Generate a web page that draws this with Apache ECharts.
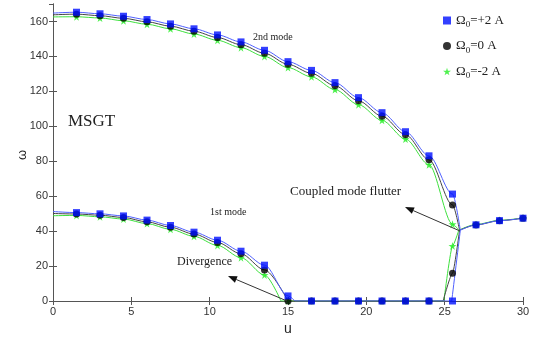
<!DOCTYPE html>
<html>
<head>
<meta charset="utf-8">
<title>MSGT flutter</title>
<script src="https://cdn.jsdelivr.net/npm/echarts@6/dist/echarts.min.js"></script>
</head>
<body style="margin:0">
<div id="main" style="width:533px;height:340px;"></div>
<script type="text/javascript">
// sample points (u) used for the markers
var uMode = [1.5, 3, 4.5, 6, 7.5, 9, 10.5, 12, 13.5, 15, 16.5, 18, 19.5, 21, 22.5, 24, 25.5];
var uMode1 = [1.5, 3, 4.5, 6, 7.5, 9, 10.5, 12, 13.5, 15];
var uZero = [16.5, 18, 19.5, 21, 22.5, 24];
var uMerged = [27, 28.5, 30];

// Omega0 = +2 A (blue)
var blueMode1 = [50.6, 49.9, 48.7, 46.3, 43.2, 39.4, 34.8, 28.5, 20.5, 2.9];
var blueMode2 = [165.3, 164.4, 163, 161.1, 158.6, 155.8, 152.3, 148.3, 143.5, 137, 132, 125, 116.4, 107.8, 96.9, 83.1, 61.2];
var blueLow = 0;
var blueMerged = [43.6, 46, 47.4];
// Omega0 = 0 A (black)
var blackMode1 = [49.8, 49.1, 47.8, 45.3, 42.2, 38.3, 33.5, 27, 17.8, 0];
var blackMode2 = [164.2, 163.3, 161.8, 159.8, 157.3, 154.4, 150.8, 146.7, 141.8, 135.5, 130.3, 123.2, 114.6, 105.8, 95.2, 80.8, 55];
var blackLow = 15.9;
var blackMerged = [43.5, 46, 47.4];
// Omega0 = -2 A (green)
var greenMode1 = [49, 48.2, 46.9, 44.3, 41, 37, 31.8, 24.8, 14.9, 0];
var greenMode2 = [162.7, 162, 160.4, 158.4, 155.8, 152.8, 149.2, 145, 140, 133.6, 128.3, 121, 112.4, 103.4, 92.7, 78, 44];
var greenLow = 31.5;
var greenMerged = [43.8, 46.2, 47.5];

// curve ends: start values at u=0, u where mode 1 hits zero, start of lower branch, meeting point
var blueEnds = {start1: 51.2, start2: 164.8, end1: 15.45, low0: 25.45, meet: [26.0, 40.5]};
var blackEnds = {start1: 50.1, start2: 163.8, end1: 15.0, low0: 24.9, meet: [25.95, 40.5]};
var greenEnds = {start1: 48.8, start2: 162.6, end1: 14.55, low0: 24.95, meet: [25.9, 40.5]};

var names = ['\u03a90=+2 A', '\u03a90=0 A', '\u03a90=-2 A'];

function zip(us, ys) { return us.map(function (u, i) { return [u, ys[i]]; }); }

function lineSeries(color, mode1, mode2, low, merged, e) {
    var base = {type: 'line', showSymbol: false, silent: true, lineStyle: {color: color, width: 1}, z: 2};
    var l1 = [[0, e.start1]].concat(zip(uMode1, mode1));
    if (l1[l1.length - 1][1] !== 0) l1.push([e.end1, 0]); else l1[l1.length - 1][0] = e.end1;
    var l2 = [[0, e.start2]].concat(zip(uMode, mode2)).concat([e.meet]);
    var flat = [[e.end1, 0], [e.low0, 0]];
    var lowB = [[e.low0, 0]];
    if (low > 0) lowB.push([25.5, low]);
    lowB.push(e.meet);
    var m = [e.meet].concat(zip(uMerged, merged));
    return [
        Object.assign({}, base, {data: l1, smooth: 0.3, smoothMonotone: 'x'}),
        Object.assign({}, base, {data: l2, smooth: 0.3, smoothMonotone: 'x'}),
        Object.assign({}, base, {data: flat}),
        Object.assign({}, base, {data: lowB, smooth: 0.2, smoothMonotone: 'x'}),
        Object.assign({}, base, {data: m, smooth: 0.3, smoothMonotone: 'x'})
    ];
}

function markerData(mode1, mode2, low, merged) {
    return zip(uMode1, mode1)
        .concat(zip(uZero, uZero.map(function () { return 0; })))
        .concat([[25.5, low]])
        .concat(zip(uMode, mode2))
        .concat(zip(uMerged, merged));
}

var star = 'path://M50,0 L61,35 L98,35 L68,57 L79,91 L50,70 L21,91 L32,57 L2,35 L39,35 Z';

var series = []
    .concat(lineSeries('#3de03d', greenMode1, greenMode2, greenLow, greenMerged, greenEnds))
    .concat(lineSeries('#444444', blackMode1, blackMode2, blackLow, blackMerged, blackEnds))
    .concat(lineSeries('#5060ff', blueMode1, blueMode2, blueLow, blueMerged, blueEnds))
    .concat([
        {name: names[2], type: 'scatter', symbol: star, symbolSize: 8, itemStyle: {color: '#22ee22'}, data: markerData(greenMode1, greenMode2, greenLow, greenMerged), z: 3},
        {name: names[1], type: 'scatter', symbol: 'circle', symbolSize: 7, itemStyle: {color: '#000'}, data: markerData(blackMode1, blackMode2, blackLow, blackMerged), z: 4},
        {name: names[0], type: 'scatter', symbol: 'rect', symbolSize: 7, itemStyle: {color: '#0010ff'}, data: markerData(blueMode1, blueMode2, blueLow, blueMerged), z: 5}
    ]);

var serif = 'Liberation Serif, Times New Roman, serif';
var sans = 'Liberation Sans, Arial, sans-serif';

function arrow(x1, y1, x2, y2) {
    var a = Math.atan2(y2 - y1, x2 - x1), L = 9, W = 3.5;
    var bx = x2 - L * Math.cos(a), by = y2 - L * Math.sin(a);
    return [
        {type: 'line', shape: {x1: x1, y1: y1, x2: bx, y2: by}, style: {stroke: '#333', lineWidth: 1}, z: 10},
        {type: 'polygon', shape: {points: [[x2, y2], [bx + W * Math.sin(a), by - W * Math.cos(a)], [bx - W * Math.sin(a), by + W * Math.cos(a)]]}, style: {fill: '#111'}, z: 10}
    ];
}

var chart = echarts.init(document.getElementById('main'));
var option = {
    animation: false,
    grid: {left: 53, right: 10, top: 4, bottom: 39, outerBoundsMode: 'none', containLabel: false},
    legend: {
        data: names,
        orient: 'vertical',
        left: 438,
        top: 9,
        itemGap: 10,
        itemWidth: 8,
        itemHeight: 8,
        formatter: function (n) {
            return '{a|\u03a9}{s|0}{a|' + n.slice(2) + '}';
        },
        textStyle: {
            rich: {
                a: {fontFamily: serif, fontSize: 13, color: '#222'},
                s: {fontFamily: serif, fontSize: 9, color: '#222', padding: [9, 0, 0, 0]}
            }
        }
    },
    xAxis: [
        {type: 'value', min: 0, max: 30, interval: 5, name: 'u', nameLocation: 'middle', nameGap: 20,
            nameTextStyle: {fontFamily: sans, fontSize: 14, color: '#222'},
            axisLine: {lineStyle: {color: '#555'}}, axisTick: {inside: true, length: 4, lineStyle: {color: '#555'}},
            axisLabel: {fontFamily: sans, fontSize: 11, color: '#333', margin: 5}, splitLine: {show: false}},
        {type: 'value', position: 'top', min: 0, max: 30, interval: 5,
            axisLine: {lineStyle: {color: '#555'}}, axisTick: {inside: true, length: 4, lineStyle: {color: '#555'}},
            axisLabel: {show: false}, splitLine: {show: false}}
    ],
    yAxis: [
        {type: 'value', min: 0, max: 170, interval: 20,
            axisLine: {show: true, lineStyle: {color: '#555'}}, axisTick: {show: true, inside: true, length: 4, lineStyle: {color: '#555'}},
            axisLabel: {fontFamily: sans, fontSize: 11, color: '#333', margin: 5, showMaxLabel: false}, splitLine: {show: false}},
        {type: 'value', position: 'right', min: 0, max: 170, interval: 20,
            axisLine: {show: true, lineStyle: {color: '#555'}}, axisTick: {show: true, inside: true, length: 4, lineStyle: {color: '#555'}},
            axisLabel: {show: false}, splitLine: {show: false}}
    ],
    series: series,
    graphic: [
        // y axis name
        {type: 'text', x: 22, y: 155, rotation: Math.PI / 2, style: {text: '\u03c9', font: '13px ' + sans, fill: '#222', align: 'center', verticalAlign: 'middle'}, z: 10},
        {type: 'text', left: 68, top: 113, style: {text: 'MSGT', font: '17px ' + serif, fill: '#222'}, z: 10},
        {type: 'text', left: 253, top: 32, style: {text: '2nd mode', font: '10px ' + serif, fill: '#222'}, z: 10},
        {type: 'text', left: 210, top: 207, style: {text: '1st mode', font: '10px ' + serif, fill: '#222'}, z: 10},
        {type: 'text', left: 177, top: 256, style: {text: 'Divergence', font: '12px ' + serif, fill: '#222'}, z: 10},
        {type: 'text', left: 290, top: 185, style: {text: 'Coupled mode flutter', font: '13px ' + serif, fill: '#222'}, z: 10}
    ].concat(arrow(287, 301, 228, 276)).concat(arrow(460, 231, 405, 207))
};
chart.setOption(option);
</script>
</body>
</html>
